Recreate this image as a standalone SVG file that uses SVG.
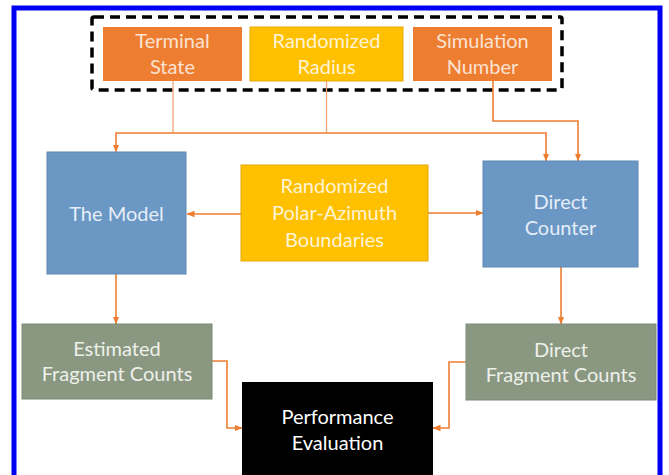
<svg xmlns="http://www.w3.org/2000/svg" width="669" height="475" viewBox="0 0 669 475">
  <defs>
    <marker id="arrow" viewBox="0 0 8 8" refX="7.5" refY="4" markerWidth="8" markerHeight="8" markerUnits="userSpaceOnUse" orient="auto">
      <path d="M0,0.8 L8,4 L0,7.2 Z" fill="#ED7D31"/>
    </marker>
  </defs>
  <style>
    text { font-family: Lato, "Open Sans", "Liberation Sans", sans-serif; font-size: 20px; text-anchor: middle; }
    .orange { fill: #ED7D31; }
    .yellow { fill: #FFC000; stroke: #E6A800; stroke-width: 1; }
    .blue { fill: #6A97C4; stroke: #5E88B2; stroke-width: 1; }
    .olive { fill: #8A9882; stroke: #7D8B76; stroke-width: 1; }
    .black { fill: #000000; }
    .lbl-o { fill: #FBE3D2; }
    .lbl-y { fill: #FFF4D6; }
    .lbl-b { fill: #E6EEF7; }
    .lbl-g { fill: #EEF0EA; }
    .lbl-k { fill: #FFFFFF; }
    .wire { fill: none; stroke: #ED7D31; stroke-width: 1.6; }
    .stub { fill: none; stroke: #F2A678; stroke-width: 1.3; }
  </style>

  <rect width="669" height="475" fill="#FFFFFF"/>
  <!-- outer frame -->
  <rect x="14" y="8" width="646" height="490" fill="none" stroke="#0000F5" stroke-width="5"/>

  <!-- dashed input grouping -->
  <rect x="92" y="17" width="470" height="73" rx="2" fill="none" stroke="#000000" stroke-width="3.5" stroke-dasharray="10 6"/>

  <g id="connectors">
    <path class="stub" d="M173,81 V133"/>
    <path class="stub" d="M326.5,81 V133"/>
    <path class="wire" d="M330,133 H116 V152" marker-end="url(#arrow)"/>
    <path class="wire" d="M330,133 H546 V161" marker-end="url(#arrow)"/>
    <path class="wire" d="M493,81 V121 H578 V161" marker-end="url(#arrow)"/>
    <path class="wire" d="M241,214 H187" marker-end="url(#arrow)"/>
    <path class="wire" d="M428,213 H483" marker-end="url(#arrow)"/>
    <path class="wire" d="M116,274 V324" marker-end="url(#arrow)"/>
    <path class="wire" d="M561,267 V324" marker-end="url(#arrow)"/>
    <path class="wire" d="M212,361 H227 V428 H242" marker-end="url(#arrow)"/>
    <path class="wire" d="M466,362 H449 V428 H433" marker-end="url(#arrow)"/>
  </g>

  <g id="terminal-state">
    <rect class="orange" x="103" y="27" width="139" height="54"/>
    <text class="lbl-o" x="172.5" y="48">Terminal</text>
    <text class="lbl-o" x="172.5" y="74">State</text>
  </g>

  <g id="randomized-radius">
    <rect class="yellow" x="250" y="27" width="153" height="54"/>
    <text class="lbl-y" x="326.5" y="48">Randomized</text>
    <text class="lbl-y" x="326.5" y="74">Radius</text>
  </g>

  <g id="simulation-number">
    <rect class="orange" x="413" y="27" width="139" height="54"/>
    <text class="lbl-o" x="482.5" y="48">Simulation</text>
    <text class="lbl-o" x="482.5" y="74">Number</text>
  </g>

  <g id="the-model">
    <rect class="blue" x="47" y="152" width="139" height="122"/>
    <text class="lbl-b" x="116.5" y="221">The Model</text>
  </g>

  <g id="polar-azimuth">
    <rect class="yellow" x="241" y="165" width="187" height="96"/>
    <text class="lbl-y" x="334.5" y="193">Randomized</text>
    <text class="lbl-y" x="334.5" y="220">Polar-Azimuth</text>
    <text class="lbl-y" x="334.5" y="247">Boundaries</text>
  </g>

  <g id="direct-counter">
    <rect class="blue" x="483" y="161" width="155" height="106"/>
    <text class="lbl-b" x="560.5" y="209">Direct</text>
    <text class="lbl-b" x="560.5" y="235">Counter</text>
  </g>

  <g id="estimated-counts">
    <rect class="olive" x="22" y="324" width="190" height="75"/>
    <text class="lbl-g" x="117" y="356">Estimated</text>
    <text class="lbl-g" x="117" y="381">Fragment Counts</text>
  </g>

  <g id="direct-counts">
    <rect class="olive" x="466" y="324" width="190" height="76"/>
    <text class="lbl-g" x="561" y="357">Direct</text>
    <text class="lbl-g" x="561" y="382">Fragment Counts</text>
  </g>

  <g id="performance-evaluation">
    <rect class="black" x="242" y="382" width="191" height="100"/>
    <text class="lbl-k" x="337.5" y="424">Performance</text>
    <text class="lbl-k" x="337.5" y="450">Evaluation</text>
  </g>
</svg>
